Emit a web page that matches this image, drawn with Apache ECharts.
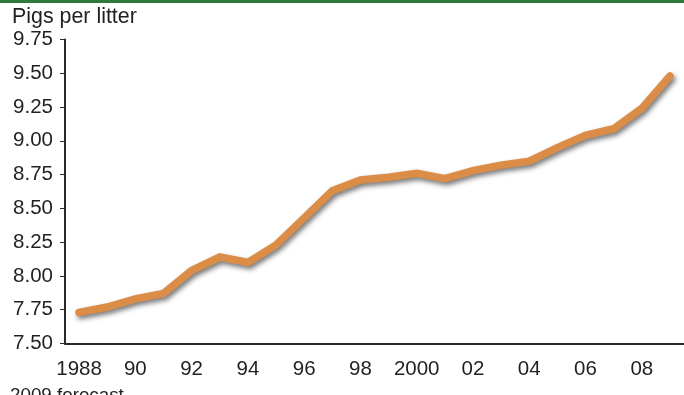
<!DOCTYPE html>
<html>
<head>
<meta charset="utf-8">
<style>
  html, body { margin: 0; padding: 0; background: #fff; }
  #chart { width: 684px; height: 395px; }
</style>
<script src="https://cdn.jsdelivr.net/npm/echarts@6/dist/echarts.min.js"></script>
</head>
<body>
<div id="chart"></div>
<script>
// Average pigs per litter, 1988–2009 (2009 is a forecast)
const years = ['1988','1989','1990','1991','1992','1993','1994','1995','1996','1997','1998',
               '1999','2000','2001','2002','2003','2004','2005','2006','2007','2008','2009'];
const pigsPerLitter = [7.73, 7.77, 7.83, 7.87, 8.04, 8.14, 8.10, 8.23, 8.43, 8.63, 8.71,
                       8.73, 8.76, 8.72, 8.78, 8.82, 8.85, 8.95, 9.04, 9.09, 9.24, 9.48];
// Short year labels shown under every other tick
const yearLabels = {'1988':'1988','1990':'90','1992':'92','1994':'94','1996':'96','1998':'98',
                    '2000':'2000','2002':'02','2004':'04','2006':'06','2008':'08'};

const FONT = 'Liberation Sans, Arial, Helvetica, sans-serif';
const TEXT = '#231f20';

const chart = echarts.init(document.getElementById('chart'), null, { renderer: 'canvas' });
chart.setOption({
  animation: false,
  backgroundColor: '#fff',
  grid: { left: 65, right: 0, top: 39.5, bottom: 51.5, containLabel: false },
  graphic: [
    { type: 'rect', left: 0, top: 0, shape: { width: 684, height: 3 }, style: { fill: '#2e7a3c' } },
    { type: 'text', left: 12, top: 7, style: { text: 'Pigs per litter', font: '21.4px ' + FONT, fill: TEXT } },
    { type: 'text', left: 10, top: 386, style: { text: '2009 forecast', font: '18.8px ' + FONT, fill: TEXT } }
  ],
  xAxis: {
    type: 'category',
    data: years,
    boundaryGap: true,
    axisLine: { lineStyle: { color: '#2a2a2a', width: 2 } },
    axisTick: { alignWithLabel: true, interval: 0, length: 7, lineStyle: { color: '#2a2a2a', width: 1 } },
    axisLabel: {
      interval: 0,
      margin: 15,
      fontFamily: FONT, fontSize: 20.5, color: TEXT,
      formatter: v => yearLabels[v] || ''
    }
  },
  yAxis: {
    type: 'value',
    min: 7.5, max: 9.75, interval: 0.25,
    splitLine: { show: false },
    axisLine: { show: true, lineStyle: { color: '#2a2a2a', width: 2 } },
    axisTick: { show: true, length: 5, lineStyle: { color: '#2a2a2a', width: 1 } },
    axisLabel: {
      margin: 12,
      fontFamily: FONT, fontSize: 20.5, color: TEXT,
      formatter: v => v.toFixed(2)
    }
  },
  series: [{
    type: 'line',
    data: pigsPerLitter,
    symbol: 'none',
    lineStyle: {
      color: '#db8c46',
      width: 7.5,
      cap: 'round',
      join: 'miter',
      shadowColor: 'rgba(30,30,30,0.6)',
      shadowBlur: 5,
      shadowOffsetX: 2,
      shadowOffsetY: 3
    }
  }]
});
</script>
</body>
</html>
